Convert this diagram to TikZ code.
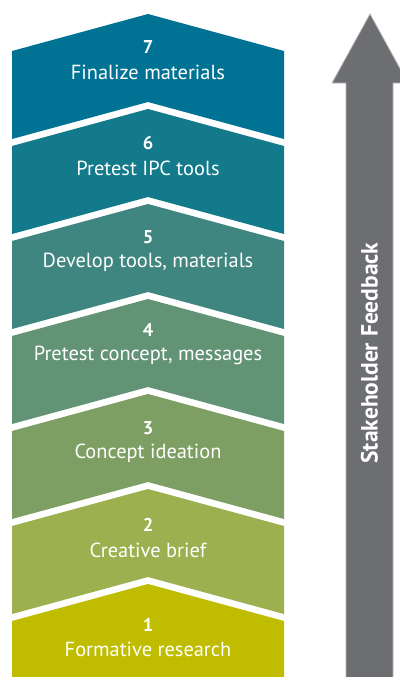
\documentclass[tikz,border=0pt]{standalone}
\usepackage{fontspec}
\setmainfont{PT Sans}
\definecolor{stepseven}{RGB}{0,115,148}
\definecolor{stepsix}{RGB}{18,122,138}
\definecolor{stepfive}{RGB}{64,134,128}
\definecolor{stepfour}{RGB}{99,147,117}
\definecolor{stepthree}{RGB}{125,159,100}
\definecolor{steptwo}{RGB}{156,176,79}
\definecolor{stepone}{RGB}{192,189,0}
\definecolor{feedbackgray}{RGB}{109,110,113}
\tikzset{
  stepnum/.style={text=white, font=\fontsize{18.5}{22}\selectfont\bfseries, inner sep=0pt},
  steplabel/.style={text=white, font=\fontsize{20.4}{24}\selectfont, inner sep=0pt},
}

\begin{document}
\begin{tikzpicture}[x=1pt, y=-1pt]
	\useasboundingbox (0,0) rectangle (399,677);
	% chevron blocks, bottom to top
	\fill[stepone] (12,621) -- (148,584) -- (284,621) -- (284,677) -- (12,677) -- cycle;
	\fill[steptwo] (12,526) -- (148,489) -- (284,526) -- (284,614) -- (148,577) -- (12,614) -- cycle;
	\fill[stepthree] (12,431) -- (148,394) -- (284,431) -- (284,519) -- (148,482) -- (12,519) -- cycle;
	\fill[stepfour] (12,336) -- (148,299) -- (284,336) -- (284,424) -- (148,387) -- (12,424) -- cycle;
	\fill[stepfive] (12,241) -- (148,204) -- (284,241) -- (284,329) -- (148,292) -- (12,329) -- cycle;
	\fill[stepsix] (12,146) -- (148,109) -- (284,146) -- (284,234) -- (148,197) -- (12,234) -- cycle;
	\fill[stepseven] (12,51) -- (148,14) -- (284,51) -- (284,139) -- (148,102) -- (12,139) -- cycle;
	% texts
	\node[stepnum] (num1) at (148,625) {1};
	\node[steplabel] (lab1) at (148,649) {Formative research};
	\node[stepnum] (num2) at (148,525) {2};
	\node[steplabel] (lab2) at (148,550) {Creative brief};
	\node[stepnum] (num3) at (148,428) {3};
	\node[steplabel] (lab3) at (148,453) {Concept ideation};
	\node[stepnum] (num4) at (148,330) {4};
	\node[steplabel] (lab4) at (148,355) {Pretest concept, messages};
	\node[stepnum] (num5) at (148,237) {5};
	\node[steplabel] (lab5) at (148,262) {Develop tools, materials};
	\node[stepnum] (num6) at (148,143) {6};
	\node[steplabel] (lab6) at (148,168) {Pretest IPC tools};
	\node[stepnum] (num7) at (148,47) {7};
	\node[steplabel] (lab7) at (148,72) {Finalize materials};
	% feedback arrow
	\filldraw[fill=feedbackgray, draw=gray!55, line width=0.8pt]
		(346,678) -- (346,83) -- (332,83) -- (370,14) -- (408,83) -- (393,83) -- (393,678) -- cycle;
	\node[rotate=90, text=white, font=\fontsize{23.5}{28}\selectfont\bfseries, inner sep=0pt] (feedback) at (369.5,353) {Stakeholder Feedback};
\end{tikzpicture}
\end{document}
